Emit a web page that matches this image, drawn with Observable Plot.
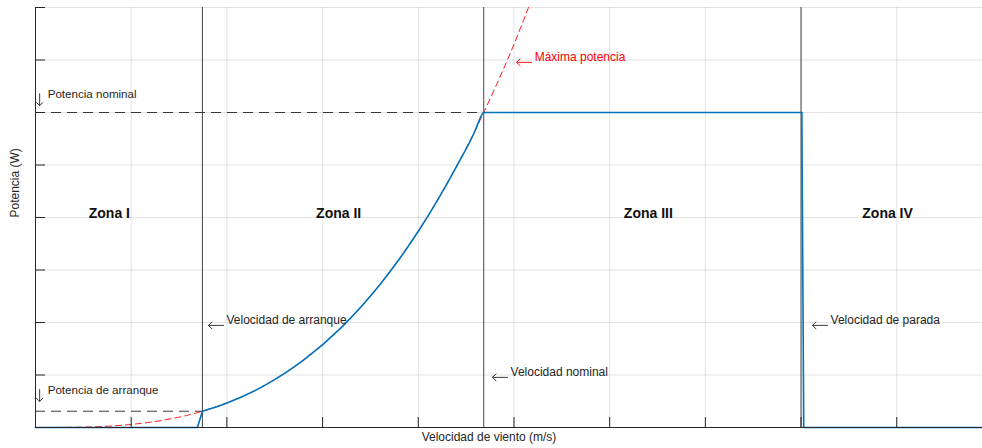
<!DOCTYPE html>
<html>
<head>
<meta charset="utf-8">
<script src="https://cdn.jsdelivr.net/npm/d3@7"></script>
<script src="https://cdn.jsdelivr.net/npm/@observablehq/plot@0.6"></script>
<style>
  html, body { margin: 0; padding: 0; background: #fff; overflow: hidden; }
</style>
</head>
<body>
<div id="chart"></div>
<script>
// Wind speed (m/s) and power (arbitrary units, grid step = 1)
const xTicks = [0, 2.5, 5, 7.5, 10, 12.5, 15, 17.5, 20, 22.5];
const yTicks = [0, 1, 2, 3, 4, 5, 6, 7, 8];

// Turbine power curve (blue)
const curveSpeed = [0, 4.23, 4.36, 5, 6, 7, 8, 9, 9.5, 10, 10.5, 11, 11.5, 11.62, 11.71, 20.02, 20.07, 24.74];
const curvePower = [0, 0, 0.31, 0.467, 0.807, 1.282, 1.913, 2.724, 3.204, 3.737, 4.326, 4.974, 5.68, 5.9, 6.0, 6.0, 0, 0];

// Maximum available power (red dashed)
const maxSpeed = [0, 1, 2, 3, 4, 4.36, 5, 6, 7, 8, 9, 9.5, 10, 10.5, 11, 11.5, 11.71, 12, 12.5, 12.88];
const maxPower = [0, 0.004, 0.03, 0.101, 0.239, 0.31, 0.467, 0.807, 1.282, 1.913, 2.724, 3.204, 3.737, 4.326, 4.974, 5.68, 6.0, 6.458, 7.299, 8.0];

// Characteristic speeds / powers
const cutInSpeed = 4.36, ratedSpeed = 11.71, cutOutSpeed = 20.0;
const cutInPower = 0.31, ratedPower = 6.0;

// Zone labels
const zoneNames = ["Zona I", "Zona II", "Zona III", "Zona IV"];
const zoneX = [1.93, 7.92, 16.01, 22.26];
const zoneY = 4.08;

// Annotations with left arrow
const leftLabels = ["Velocidad de arranque", "Velocidad nominal", "Máxima potencia", "Velocidad de parada"];
const leftX = [4.52, 11.94, 12.57, 20.30];
const leftY = [2.04, 1.05, 7.05, 2.04];
const leftColor = ["#262626", "#262626", "#ff0000", "#262626"];

// Annotations with down arrow
const downLabels = ["Potencia nominal", "Potencia de arranque"];
const downX = [0.03, 0.03];
const downY = [6.34, 0.705];

const curve = curveSpeed.map((v, i) => ({v, p: curvePower[i]}));
// split: straight jumps at cut-in / cut-out, smooth in between
const curveStart = curve.filter(d => d.v <= cutInSpeed);
const curveMid = curve.filter(d => d.v >= cutInSpeed && d.v <= 20.02);
const curveEnd = curve.filter(d => d.v >= 20.02);
const maxCurve = maxSpeed.map((v, i) => ({v, p: maxPower[i]}));
const zones = zoneNames.map((name, i) => ({name, x: zoneX[i], y: zoneY}));
const leftAnn = leftLabels.map((label, i) => ({label, x: leftX[i], y: leftY[i], color: leftColor[i]}));
const downAnn = downLabels.map((label, i) => ({label, x: downX[i], y: downY[i]}));
const hLines = [{p: ratedPower, x2: ratedSpeed}, {p: cutInPower, x2: cutInSpeed}];

const ink = "#262626";
const blue = "#0072BD";

const chart = Plot.plot({
  width: 982,
  height: 448,
  marginLeft: 35,
  marginRight: 0,
  marginTop: 7,
  marginBottom: 21,
  x: {domain: [0, 24.74], axis: null},
  y: {domain: [0, 8], axis: null},
  style: {fontFamily: "'Liberation Sans', Arial, Helvetica, sans-serif", fontSize: "12px", color: ink, background: "#fff"},
  marks: [
    Plot.gridX(xTicks, {stroke: "#000", strokeOpacity: 0.11, strokeWidth: 1}),
    Plot.gridY(yTicks, {stroke: "#000", strokeOpacity: 0.11, strokeWidth: 1}),
    // max power dashed
    Plot.line(maxCurve, {x: "v", y: "p", stroke: "#ff0000", strokeWidth: 0.9, strokeDasharray: "6,4", curve: "monotone-x", clip: true}),
    // reference dashed lines
    Plot.ruleY(hLines, {y: "p", x1: 0, x2: "x2", stroke: "#222", strokeWidth: 0.9, strokeDasharray: "10,6"}),
    // zone boundaries
    Plot.ruleX([cutInSpeed, ratedSpeed, cutOutSpeed], {stroke: "#444", strokeWidth: 1}),
    // power curve
    Plot.line(curveStart, {x: "v", y: "p", stroke: blue, strokeWidth: 1.6}),
    Plot.line(curveMid, {x: "v", y: "p", stroke: blue, strokeWidth: 1.6, curve: "monotone-x"}),
    Plot.line(curveEnd, {x: "v", y: "p", stroke: blue, strokeWidth: 1.6}),
    // axes
    Plot.axisX(xTicks, {tickSize: -10, tickFormat: () => "", stroke: ink, label: null}),
    Plot.axisY(yTicks, {tickSize: -10, tickFormat: () => "", stroke: ink, label: null}),
    Plot.ruleX([0], {stroke: ink, strokeWidth: 1}),
    Plot.ruleY([0], {stroke: ink, strokeWidth: 1}),
    // zone labels
    Plot.text(zones, {x: "x", y: "y", text: "name", fontWeight: "bold", fontSize: 14, fill: "#111", textAnchor: "middle"}),
    // left-arrow annotations
    Plot.vector(leftAnn, {x: "x", y: "y", length: 15, rotate: 270, anchor: "end", r: 4, dy: 5, strokeWidth: 0.9, stroke: d => d.color}),
    Plot.text(leftAnn, {x: "x", y: "y", text: "label", textAnchor: "start", dx: 18, fontSize: 12, fill: d => d.color}),
    // down-arrow annotations
    Plot.vector(downAnn, {x: "x", y: "y", length: 12, rotate: 180, anchor: "end", r: 4.5, dx: 3, dy: 11, strokeWidth: 0.9, stroke: ink}),
    Plot.text(downAnn, {x: "x", y: "y", text: "label", textAnchor: "start", dx: 11, fontSize: 11.6, fill: ink}),
    // axis titles
    Plot.text(["Velocidad de viento (m/s)"], {frameAnchor: "bottom", dy: 13, dx: -20, fontSize: 12, fill: ink}),
    Plot.text(["Potencia (W)"], {frameAnchor: "left", rotate: -90, dx: -20, fontSize: 12, fill: ink})
  ]
});

document.getElementById("chart").appendChild(chart);
</script>
</body>
</html>
